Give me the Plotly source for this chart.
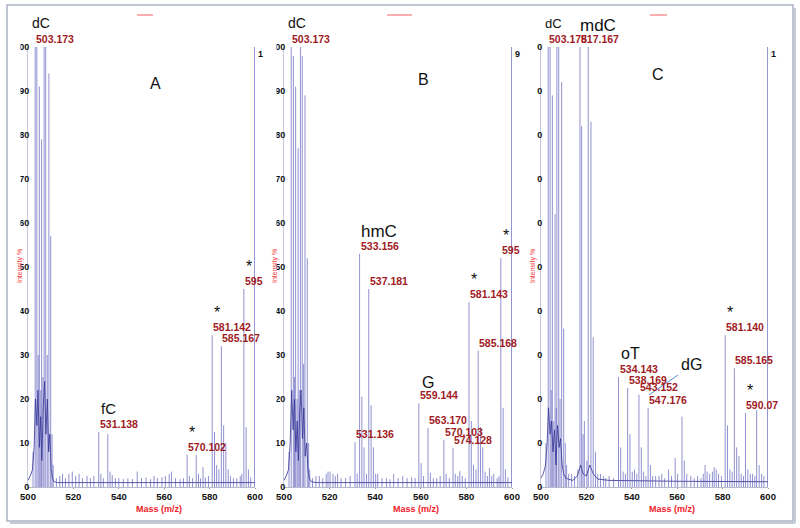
import plotly.graph_objects as go

# ---------------- data ----------------
# Panel A
A_mz = [502.2, 503.17, 503.9, 504.5, 505.0, 505.6, 506.0, 506.6, 507.1, 507.8, 508.5, 509.2, 510.0, 510.6, 511.1,
        512.5, 514, 515.2, 516.5, 518, 519.5, 521, 522.5, 524, 526, 527.5, 529,
        531.14, 532.1, 533.2, 535.15, 536.15, 537.1, 538.5, 540, 542, 544, 546, 548.1, 550, 552, 554, 555.5, 557, 559,
        560.5, 562.2, 563.2, 565, 567, 568.5,
        570.1, 571.1, 572.5, 574.1, 575.1, 576, 577.1, 578.1, 579.5,
        581.14, 582.15, 583.1, 584.1, 585.17, 586.17, 587.17, 588.2, 589.2, 590.5, 592, 593.5, 594.2,
        595.1, 596.1, 597.1, 598.1, 599.8]
A_int = [8, 100, 100, 30, 91, 22, 79, 25, 100, 100, 30, 94, 57, 12, 5,
         2, 2.5, 3, 2, 3, 3.5, 2.5, 3, 2, 2.5, 2, 2.5,
         12.5, 3, 2, 12, 3.5, 2.7, 2, 2, 1.8, 2, 1.8, 3.5, 2, 2.2, 1.8, 2.5, 2, 2.2,
         2.5, 3, 3.5, 2, 1.8, 2,
         7.3, 2.5, 2, 7.3, 3, 2, 4.5, 2.2, 2.5,
         34.5, 12.5, 5, 4, 32, 14, 10, 4, 2.5, 2, 2, 2.5, 3,
         45, 13.6, 4, 2.2, 100]
A_env_mz = [500, 501, 502, 502.7, 503.3, 503.9, 504.4, 505, 505.6, 506.1, 506.7, 507.3, 507.9, 508.5, 509.1,
            509.6, 510.2, 510.8, 511.5, 513, 540, 570, 600]
A_env_int = [1.5, 2.5, 4, 9, 20, 14, 22, 9, 16, 6, 18, 24, 12, 20, 8, 12, 4, 2, 1.2, 1, 1, 1, 1]
A_lab_text = ["503.173", "531.138", "570.102", "581.142", "585.167", "595"]
A_lab_mz = [503.17, 531.14, 570.1, 581.14, 585.17, 595.1]
A_names = ["dC", "fC", "*", "*", "*"]
A_name_mz = [503.17, 531.14, 570.1, 581.14, 595.1]

# Panel B
B_mz = [502.2, 503.17, 504.1, 504.6, 505.1, 505.7, 506.2, 506.7, 507.2, 508.0, 508.6, 509.2, 510.2, 510.8, 511.3,
        512.5, 514, 515.5, 517, 518.5, 519.3, 520.2, 521.5, 522.5, 523.5, 525, 527, 529,
        531.14, 532.1, 533.16, 534.15, 535.1, 536.2, 537.18, 538.2, 539.2, 540.2, 541.1, 543, 545, 546.5, 548.1, 550,
        552.1, 554, 556, 557.5,
        559.14, 560.15, 561.2, 563.17, 564.2, 565.5, 567, 568.5, 570.1, 571.1, 572.5, 574.13, 575.1, 576.2, 577.1,
        578.2, 579.5,
        581.14, 582.15, 583.1, 584.2, 585.17, 586.17, 587.17, 588.2, 589.2, 590.1, 591.1, 592, 593.5, 594.3,
        595.1, 596.1, 597.1, 598.2, 599.8]
B_int = [8, 100, 98, 25, 91, 20, 77, 22, 100, 98, 28, 89, 52, 10, 4,
         2, 2.5, 2.5, 2, 3, 3.5, 3.5, 3, 2.5, 3, 2, 2, 2.5,
         10.2, 3, 53, 20.5, 9, 3, 45, 18.6, 9, 3, 3, 2, 2, 1.8, 3, 2,
         2.5, 2, 2.2, 2,
         19, 5.4, 2.5, 13.4, 3.2, 2, 2, 2.5, 10.7, 3, 2, 8.9, 3, 2.5, 3.6,
         2.5, 2,
         42, 15, 5, 4, 31, 13.6, 9, 3.5, 2.5, 4.3, 2.5, 3, 2, 2.5,
         52, 18, 4, 2.2, 100]
B_env_mz = [500, 501, 502, 502.7, 503.4, 504, 504.6, 505.2, 505.8, 506.3, 506.9, 507.5, 508.1, 508.7, 509.3,
            509.9, 510.5, 511.1, 512, 514, 540, 570, 600]
B_env_int = [1.5, 2.5, 4, 10, 22, 13, 20, 8, 15, 6, 17, 22, 11, 18, 7, 10, 4, 2, 1.2, 1, 1, 1, 1]
B_lab_text = ["503.173", "533.156", "537.181", "531.136", "559.144", "563.170", "570.103", "574.128",
              "581.143", "585.168", "595"]
B_lab_mz = [503.17, 533.16, 537.18, 531.14, 559.14, 563.17, 570.1, 574.13, 581.14, 585.17, 595.1]
B_names = ["dC", "hmC", "G", "*", "*"]
B_name_mz = [503.17, 533.16, 559.14, 581.14, 595.1]

# Panel C
C_mz = [502.2, 503.18, 504.0, 504.5, 505.0, 505.6, 506.2, 506.7, 507.0, 507.8, 508.4, 509.1, 510.0, 510.7, 511.3,
        512.2, 513.5, 514.8,
        516.2, 517.17, 517.9, 518.5, 519.1, 520.2, 520.8, 522.0, 523.0, 524.0, 525, 526.2, 527.5, 528.5, 530, 532,
        534.14, 535.1, 536.2, 537.2, 538.17, 539.2, 540.2, 541.2, 542.2, 543.15, 544.2, 545.2, 546.2, 547.18, 548.2,
        549.2, 550.5, 552, 553.2, 554.5, 556.2, 557.5, 559.1, 560.2, 562.1, 563.1, 564.2, 566, 567.5, 569, 570.5,
        571.5, 572.3, 573.2, 574.3, 575.5, 576.3, 577.2, 578.2, 579.5,
        581.14, 582.15, 583.2, 584.2, 585.17, 586.2, 587.2, 588.2, 589.2, 590.07, 591.1, 592.2, 593.2, 594.2,
        595.0, 596.1, 597.2, 598.2, 599.8]
C_int = [10, 100, 100, 22, 89, 15, 62, 18, 100, 100, 20, 92, 36, 10, 5,
         3, 3, 2.5,
         4, 100, 82, 12, 15, 6, 100, 83, 34, 8, 3, 3, 2.5, 2, 2.5, 2,
         25, 9, 3.5, 3, 22.5, 12, 3.5, 4, 3, 21, 9, 3.5, 2.5, 18, 5,
         2.5, 2.5, 2.5, 3, 2, 4, 2.5, 6.6, 3, 16, 6, 3, 2.5, 2, 2.5, 2,
         3, 5, 3.5, 3, 3.5, 4.5, 4, 3, 2.5,
         34.5, 14, 4, 3.5, 27, 9, 7, 3, 2.5, 16.8, 4, 3, 3, 2.5,
         17.5, 5, 3, 2.5, 100]
C_env_mz = [500, 501, 502, 502.7, 503.3, 504, 504.6, 505.3, 506, 506.6, 507.3, 508, 508.6, 509.3, 510, 511, 512,
            514, 516, 517.5, 518.5, 520, 521.5, 523, 525, 530, 560, 600]
C_env_int = [2, 3, 5, 10, 18, 12, 15, 8, 13, 5, 14, 9, 11, 5, 3, 2, 1.8, 1.5, 2.5, 5, 3, 2.5, 5, 3, 1.8, 1.5, 1.3, 1.2]
C_lab_text = ["503.178", "517.167", "534.143", "538.169", "543.152", "547.176", "581.140", "585.165", "590.07"]
C_lab_mz = [503.18, 517.17, 534.14, 538.17, 543.15, 547.18, 581.14, 585.17, 590.07]
C_names = ["dC", "mdC", "oT", "*", "*"]
C_name_mz = [503.18, 517.17, 534.14, 581.14, 590.07]

edge_labels = ["1", "9", "1"]
panel_letters = ["A", "B", "C"]
x_ticks = [500, 520, 540, 560, 580, 600]
y_ticks = [0, 10, 20, 30, 40, 50, 60, 70, 80, 90, 100]

# ---------------- layout helpers ----------------
W, H = 800, 528
def px(x):
    return x / W
def py(y):
    return 1 - y / H

LAB_RED = "#a01a1e"
AX_RED = "#f0202a"
FONT = "Arial"

panels = [
    dict(mz=A_mz, it=A_int, emz=A_env_mz, eit=A_env_int, lt=A_lab_text, lm=A_lab_mz, nt=A_names, nm=A_name_mz,
         dom=(28, 255)),
    dict(mz=B_mz, it=B_int, emz=B_env_mz, eit=B_env_int, lt=B_lab_text, lm=B_lab_mz, nt=B_names, nm=B_name_mz,
         dom=(284, 512)),
    dict(mz=C_mz, it=C_int, emz=C_env_mz, eit=C_env_int, lt=C_lab_text, lm=C_lab_mz, nt=C_names, nm=C_name_mz,
         dom=(541, 768)),
]
name_style = {
    "dC": (14, -5, 14), "fC": (15, 0, 13), "hmC": (17, -1, 11), "G": (16, 1, 10),
    "mdC": (17, -2, 10), "oT": (16, 0, 13), "*": (16, 0, 12),
}
letter_pos = [(155, 83), (423, 79), (658, 74)]
mass_pos = [(159, 509), (416, 509), (672, 509)]
ytitle_pos = [(20, 266), (275, 266), (533, 266)]
red_marks = [(137, 153), (387, 412), (650, 667)]
covers = [(8, 20.5), (263.5, 276.5), (518, 537)]

def height_at(mzs, its, m):
    i = min(range(len(mzs)), key=lambda k: abs(mzs[k] - m))
    return its[i]

def paper_text(x, y, text, font, angle=0):
    return dict(x=px(x), y=py(y), xref="paper", yref="paper", text=text, showarrow=False,
                xanchor="center", yanchor="middle", textangle=angle, font=font)

fig = go.Figure()
annotations = []
shapes = []
layout_axes = {}

for i, p in enumerate(panels):
    sfx = "" if i == 0 else str(i + 1)
    xa, ya = "x" + sfx, "y" + sfx
    # sticks
    sx, sy = [], []
    for m, h in zip(p["mz"], p["it"]):
        sx += [m, m, None]
        sy += [0, h, None]
    fig.add_trace(go.Scatter(x=sx, y=sy, mode="lines", xaxis=xa, yaxis=ya,
                             line=dict(color="rgba(72,72,178,0.6)", width=1), hoverinfo="skip"))
    # profile envelope
    fig.add_trace(go.Scatter(x=p["emz"], y=p["eit"], mode="lines", xaxis=xa, yaxis=ya,
                             line=dict(color="rgba(52,52,150,0.9)", width=0.9), hoverinfo="skip"))
    d0, d1 = p["dom"]
    layout_axes["xaxis" + sfx] = dict(
        domain=[px(d0), px(d1)], range=[500, 600], anchor=ya, tickvals=x_ticks,
        ticktext=[str(v) for v in x_ticks], showgrid=False, zeroline=False, automargin=False,
        showline=True, linecolor="#b8b8cc", linewidth=1, ticks="outside", ticklen=1, tickcolor="#999",
        tickfont=dict(family=FONT, size=9.5, color="#111", weight="bold"))
    layout_axes["yaxis" + sfx] = dict(
        domain=[py(487), py(47)], range=[0, 100], anchor=xa, tickvals=y_ticks,
        ticktext=[str(v) for v in y_ticks], showgrid=False, zeroline=False, automargin=False,
        showline=True, linecolor="#c8c8d8", linewidth=1, ticks="", ticklabelstandoff=-4,
        tickfont=dict(family=FONT, size=9, color="#111", weight="bold"))
    # peak labels
    for t, m in zip(p["lt"], p["lm"]):
        annotations.append(dict(x=m, y=height_at(p["mz"], p["it"], m), xref=xa, yref=ya, text=t,
                                showarrow=False, xanchor="left", yanchor="bottom", xshift=-1,
                                font=dict(family=FONT, size=10.5, color=LAB_RED, weight="bold")))
    # compound names / asterisks
    for t, m in zip(p["nt"], p["nm"]):
        size, xs, ys = name_style[t]
        if t == "dC" and i == 2:
            size = 13
        annotations.append(dict(x=m, y=height_at(p["mz"], p["it"], m), xref=xa, yref=ya, text=t,
                                showarrow=False, xanchor="left", yanchor="bottom", xshift=xs, yshift=ys,
                                font=dict(family=FONT, size=size, color="#111")))
    # truncated label of the right-edge peak
    annotations.append(dict(x=599.8, y=100, xref=xa, yref=ya, text=edge_labels[i], showarrow=False,
                            xanchor="left", yanchor="top", xshift=1,
                            font=dict(family=FONT, size=9, color="#111", weight="bold")))
    # panel letter
    lx, ly = letter_pos[i]
    annotations.append(paper_text(lx, ly, panel_letters[i], dict(family=FONT, size=16, color="#111")))
    # axis titles
    mx, my = mass_pos[i]
    annotations.append(paper_text(mx, my, "Mass (m/z)",
                                  dict(family=FONT, size=9, color=AX_RED, weight="bold")))
    tx, ty = ytitle_pos[i]
    annotations.append(paper_text(tx, ty, "Intensity %", dict(family=FONT, size=7, color="#f04040"), -90))
    # faint red mark at the top
    r0, r1 = red_marks[i]
    shapes.append(dict(type="line", xref="paper", yref="paper", x0=px(r0), x1=px(r1), y0=py(15), y1=py(15),
                       line=dict(color="rgba(240,110,110,0.55)", width=2)))
    # left crop of the y tick labels
    c0, c1 = covers[i]
    shapes.append(dict(type="rect", xref="paper", yref="paper", x0=px(c0), x1=px(c1), y0=py(481), y1=py(38),
                       fillcolor="white", line=dict(width=0), layer="above"))

# dG label with pointer
annotations.append(paper_text(691, 364, "dG", dict(family=FONT, size=16, color="#111")))
shapes.append(dict(type="line", xref="paper", yref="paper", x0=px(649), y0=py(395), x1=px(678), y1=py(375),
                   line=dict(color="#5a8ad0", width=1)))
# outer frame with shadow
shapes.append(dict(type="rect", xref="paper", yref="paper", x0=px(7), x1=px(793), y0=py(521), y1=py(5),
                   line=dict(color="#a9b4c6", width=1.5)))
shapes.append(dict(type="line", xref="paper", yref="paper", x0=px(795), x1=px(795), y0=py(523), y1=py(8),
                   line=dict(color="#c4cad4", width=2)))
shapes.append(dict(type="line", xref="paper", yref="paper", x0=px(10), x1=px(795), y0=py(523), y1=py(523),
                   line=dict(color="#c4cad4", width=2)))

fig.update_layout(template="none", width=W, height=H,
                  margin=dict(l=0, r=0, t=0, b=0, pad=0, autoexpand=False), showlegend=False,
                  paper_bgcolor="white", plot_bgcolor="white", annotations=annotations, shapes=shapes,
                  **layout_axes)

# the page's default 8px body margin would shift the figure; remove it
fig.write_html("out.html", config={"displayModeBar": False},
               post_script="document.body.style.margin='0';")
